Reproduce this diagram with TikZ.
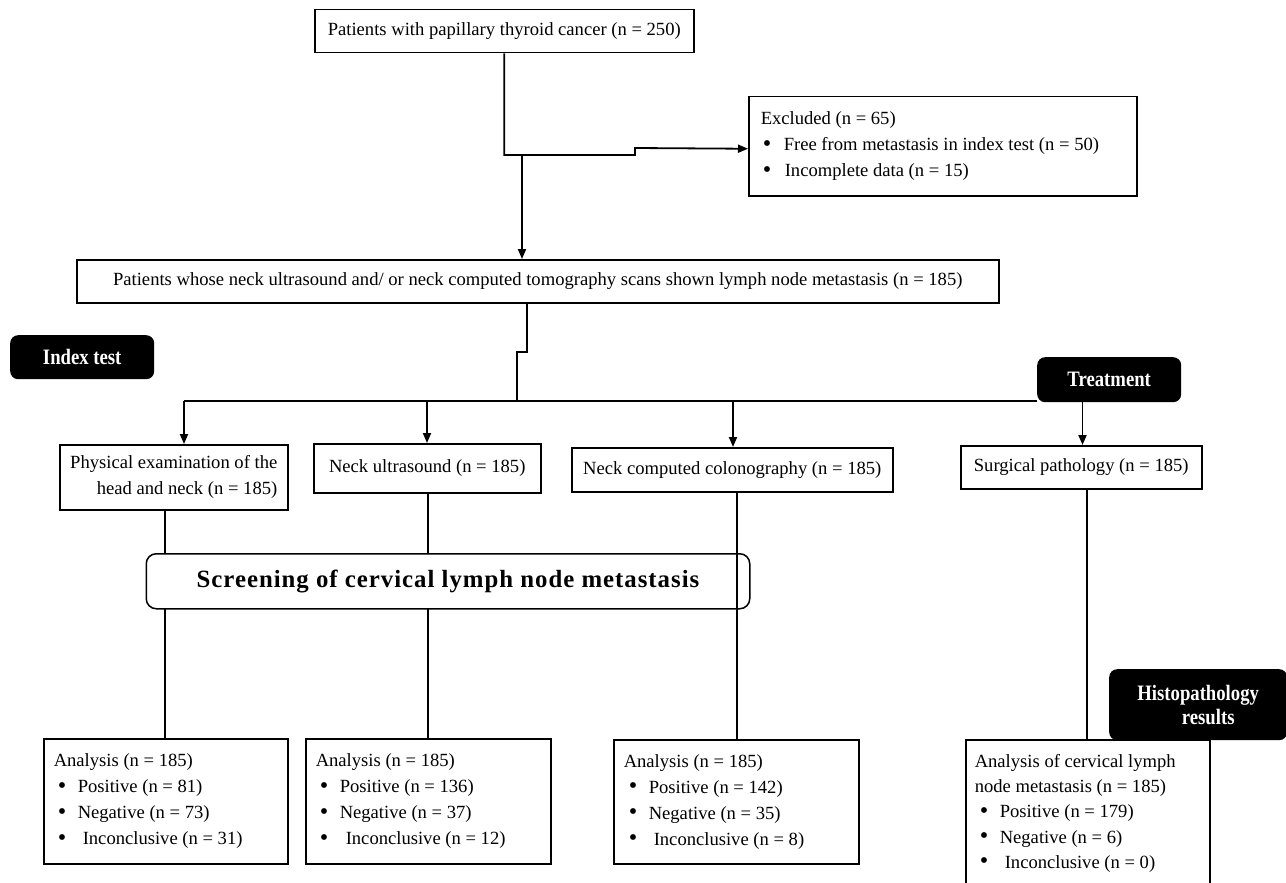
\documentclass[tikz,border=0pt]{standalone}
\usepackage{fontspec}
\setmainfont{Liberation Serif}
\newfontfamily\labfont[FakeStretch=0.85]{Liberation Serif}
\newfontfamily\scrfont[LetterSpace=4]{Liberation Serif}
\usetikzlibrary{arrows.meta,calc}
\newcommand{\bodyfont}{\fontsize{18.6}{26}\selectfont}
\newcommand{\blt}[1]{\hspace*{#1}\makebox[20pt][l]{\raisebox{-0.5pt}{\scalebox{1.3}{\textbullet}}}}
\begin{document}
\begin{tikzpicture}[x=1pt,y=-1pt,
  box/.style={draw, line width=1.5pt, fill=white, font=\bodyfont, inner xsep=10pt, inner ysep=0pt, anchor=north west, align=flush left},
  cbox/.style={draw, line width=1.5pt, fill=white, font=\bodyfont, inner sep=0pt, anchor=north west, align=center},
  lab/.style={fill=black, rounded corners=8pt, text=white, font=\labfont\bfseries\fontsize{22}{24}\selectfont, inner sep=0pt, anchor=north west, align=center},
  conn/.style={line width=1.8pt},
  thinconn/.style={line width=1.3pt},
  arr/.style={conn, -{Triangle[length=10pt,width=8pt]}}]
\useasboundingbox (0,0) rectangle (1286,883);

% boxes
\node[cbox, minimum width=379pt, minimum height=43pt] (top) at (314,9)
  {Patients with papillary thyroid cancer (n = 250)};
\node[box, inner xsep=12pt, text width=364pt, minimum height=99pt] (excl) at (748,96)
  {Excluded (n = 65)\\ \blt{2pt}\hspace{1pt}Free from metastasis in index test (n = 50)\\ \blt{2pt}\hspace{2pt}Incomplete data (n = 15)};
\node[cbox, minimum width=922pt, minimum height=43pt] (wide) at (76,259)
  {Patients whose neck ultrasound and/ or neck computed tomography scans shown lymph node metastasis (n = 185)};
\node[cbox, align=right, minimum width=228pt, minimum height=65pt] (phys) at (59,444)
  {Physical examination of the\\ head and neck (n = 185)};
\node[cbox, minimum width=227pt, minimum height=49pt] (us) at (313,443)
  {Neck ultrasound (n = 185)};
\node[cbox, minimum width=321pt, minimum height=44pt] (colon) at (571,447)
  {Neck computed colonography (n = 185)};
\node[cbox, minimum width=241pt, minimum height=43pt] (surg) at (960,445)
  {Surgical pathology (n = 185)};

\node[box, text width=224pt, minimum height=125pt] (a1) at (43,738)
  {Analysis (n = 185)\\ \blt{4pt}Positive (n = 81)\\ \blt{4pt}Negative (n = 73)\\ \blt{4pt}\hspace{5pt}Inconclusive (n = 31)};
\node[box, text width=225pt, minimum height=125pt] (a2) at (305,738)
  {Analysis (n = 185)\\ \blt{4pt}Positive (n = 136)\\ \blt{4pt}Negative (n = 37)\\ \blt{4pt}\hspace{6pt}Inconclusive (n = 12)};
\node[box, text width=225pt, minimum height=124pt] (a3) at (613,739)
  {Analysis (n = 185)\\ \blt{5pt}Positive (n = 142)\\ \blt{5pt}Negative (n = 35)\\ \blt{5pt}\hspace{5pt}Inconclusive (n = 8)};
\node[box, inner xsep=9pt, text width=226pt, minimum height=147pt,
  font=\fontsize{18.6}{25.3}\selectfont] (a4) at (965,739)
  {Analysis of cervical lymph\\ node metastasis (n = 185)\\ \blt{5pt}Positive (n = 179)\\ \blt{5pt}Negative (n = 6)\\ \blt{5pt}\hspace{5pt}Inconclusive (n = 0)};

% labels
\node[lab, minimum width=144pt, minimum height=44pt] (idx) at (10,335) {Index test};
\node[lab, minimum width=144pt, minimum height=45pt] (treat) at (1037,357) {Treatment};

% connectors top
\coordinate (j1) at (522,155);
\draw[arr] (top.south) |- (635,155) -- (635,148) -- ([yshift=-2.5pt]excl.west);
\draw[arr] (j1) -- (j1 |- wide.north);

\coordinate (x527) at (527,0);
\coordinate (bus) at (517,401);
\draw[conn] (wide.south -| x527) -- (527,352) -- (517,352) -- (bus);

\coordinate (bl) at (184,401);
\coordinate (bu) at (427,401);
\coordinate (bc) at (733,401);
\coordinate (br) at (1037,401);
\coordinate (tt) at (1082.5,402);
\draw[line width=2pt] (bl) -- (bc);
\draw[line width=1.5pt] (bc) -- (br);
\draw[arr] (bl) -- (bl |- phys.north);
\draw[arr] (bu) -- (bu |- us.north);
\draw[arr] (bc) -- (bc |- colon.north);
\draw[arr] (tt) -- (tt |- surg.north);

% down lines
\coordinate (v1) at (165,0);
\coordinate (v2) at (428,0);
\coordinate (v3) at (737,0);
\coordinate (v4) at (1087,0);
\draw[thinconn] (phys.south -| v1) -- (a1.north -| v1);
\draw[thinconn] (us.south -| v2) -- (a2.north -| v2);

\node[draw, line width=1.5pt, fill=white, rounded corners=10pt, anchor=north west,
  minimum width=603.5pt, minimum height=55pt, inner sep=0pt,
  font=\scrfont\bfseries\fontsize{24.8}{28}\selectfont] (scr) at (145.5,553)
  {Screening of cervical lymph node metastasis};

\draw[thinconn] (colon.south -| v3) -- (a3.north -| v3);
\draw[thinconn] (surg.south -| v4) -- (a4.north -| v4);

\node[lab, minimum width=178pt, minimum height=71pt] (histo) at (1109,669)
  {Histopathology\\ \hspace*{20pt}results};
\end{tikzpicture}
\end{document}
